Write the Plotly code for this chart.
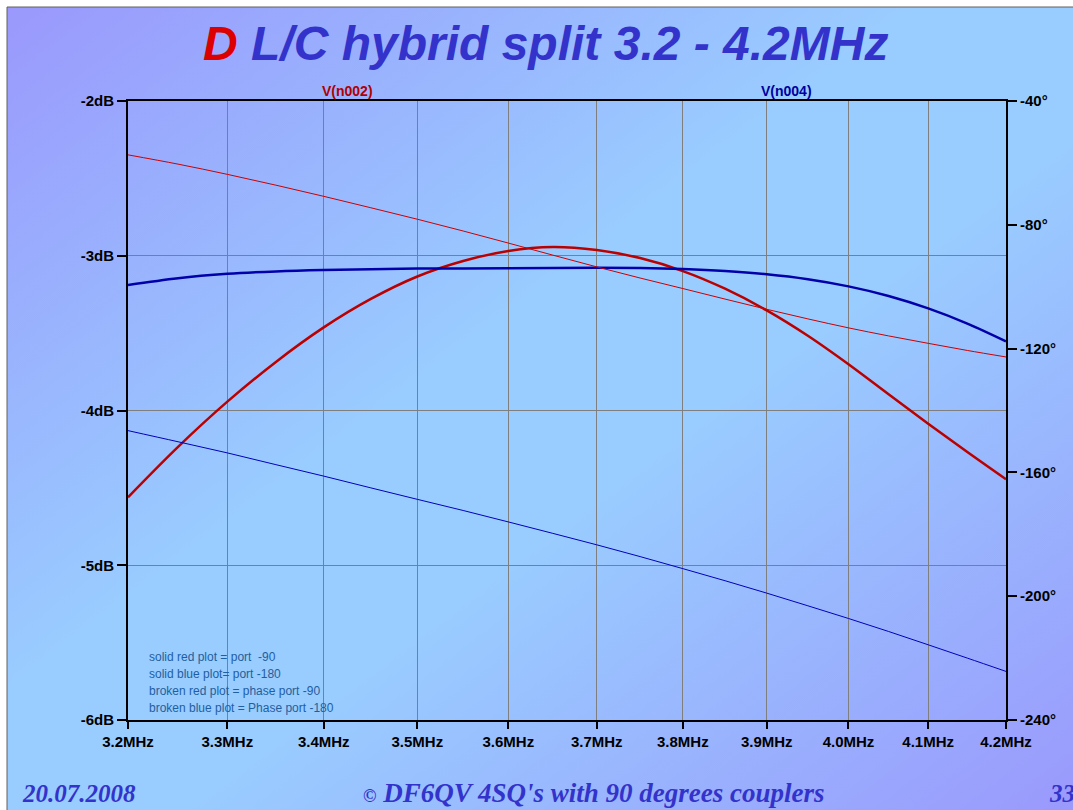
import base64
import math
import plotly.graph_objects as go

# Frequency sweep points (MHz)
freq_mhz = [3.2, 3.25, 3.3, 3.35, 3.4, 3.45, 3.5, 3.55, 3.6, 3.65, 3.7, 3.75,
            3.8, 3.85, 3.9, 3.95, 4.0, 4.05, 4.1, 4.15, 4.2]

# Magnitudes (dB) at the two output ports
mag_port90_db = [-4.561, -4.235, -3.943, -3.686, -3.463, -3.279, -3.134, -3.034,
                 -2.969, -2.943, -2.963, -3.015, -3.099, -3.213, -3.353, -3.517,
                 -3.701, -3.895, -4.085, -4.268, -4.444]
mag_port180_db = [-3.189, -3.145, -3.117, -3.101, -3.092, -3.087, -3.083, -3.082,
                  -3.081, -3.079, -3.077, -3.079, -3.086, -3.099, -3.120, -3.152,
                  -3.198, -3.260, -3.340, -3.438, -3.553]

# Phases (degrees) at the two output ports
phase_port90_deg = [-57.4, -60.4, -63.7, -67.2, -70.8, -74.5, -78.2, -82.0,
                    -85.9, -89.8, -93.6, -97.2, -100.6, -104.0, -107.3, -110.4,
                    -113.3, -115.9, -118.3, -120.6, -122.7]
phase_port180_deg = [-146.5, -150.1, -153.7, -157.5, -161.2, -165.0, -168.7, -172.3,
                     -176.0, -179.7, -183.4, -187.2, -191.1, -195.0, -199.0, -203.1,
                     -207.2, -211.4, -215.7, -220.0, -224.3]

# Axis ticks
x_ticks = [3.2, 3.3, 3.4, 3.5, 3.6, 3.7, 3.8, 3.9, 4.0, 4.1, 4.2]
x_ticklabels = [f"<b>{v:.1f}MHz</b>" for v in x_ticks]
db_ticks = [-2, -3, -4, -5, -6]
db_ticklabels = [f"<b>{v}dB</b>" for v in db_ticks]
deg_ticks = [-40, -80, -120, -160, -200, -240]
deg_ticklabels = [f"<b>{v}°</b>" for v in deg_ticks]

W, H = 1073, 810
L, R, T, B = 128, 1006, 101, 720
PW, PH = R - L, B - T


def px(xp):
    return (xp - L) / PW


def py(yp):
    return (B - yp) / PH


# Slide background: diagonal purple / light-blue gradient with a thin frame
svg = f"""<svg xmlns='http://www.w3.org/2000/svg' width='{W}' height='{H}' viewBox='0 0 {W} {H}' preserveAspectRatio='none'>
<defs><linearGradient id='g' x1='0' y1='0' x2='1' y2='1'>
<stop offset='0' stop-color='#9a98fc'/>
<stop offset='0.42' stop-color='#99ccff'/>
<stop offset='0.58' stop-color='#99ccff'/>
<stop offset='1' stop-color='#9a98fc'/>
</linearGradient></defs>
<rect x='0' y='0' width='{W}' height='{H}' fill='#ffffff'/>
<rect x='7' y='7' width='{W}' height='{H}' fill='url(#g)'/>
<line x1='7' y1='7' x2='{W}' y2='7' stroke='#606060' stroke-width='1'/>
<line x1='7' y1='7' x2='7' y2='{H}' stroke='#606060' stroke-width='1'/>
</svg>"""
bg_src = "data:image/svg+xml;base64," + base64.b64encode(svg.encode()).decode()

fig = go.Figure()

fig.add_trace(go.Scatter(x=freq_mhz, y=mag_port90_db, mode="lines",
                         line=dict(color="#bb0000", width=2.5, shape="spline"),
                         name="V(n002)", yaxis="y"))
fig.add_trace(go.Scatter(x=freq_mhz, y=mag_port180_db, mode="lines",
                         line=dict(color="#0000aa", width=2.5, shape="spline"),
                         name="V(n004)", yaxis="y"))
fig.add_trace(go.Scatter(x=freq_mhz, y=phase_port90_deg, mode="lines",
                         line=dict(color="#cc0000", width=1, shape="spline"),
                         name="phase V(n002)", yaxis="y2"))
fig.add_trace(go.Scatter(x=freq_mhz, y=phase_port180_deg, mode="lines",
                         line=dict(color="#0000bb", width=1, shape="spline"),
                         name="phase V(n004)", yaxis="y2"))

tickfont = dict(family="Liberation Sans, Arial", size=15, color="#000000")

fig.update_layout(
    width=W, height=H,
    margin=dict(l=L, r=W - R, t=T, b=H - B, pad=0),
    paper_bgcolor="#99ccff",
    plot_bgcolor="rgba(0,0,0,0)",
    showlegend=False,
    xaxis=dict(
        type="log",
        range=[math.log10(3.2), math.log10(4.2)],
        tickvals=x_ticks, ticktext=x_ticklabels, tickfont=tickfont,
        showgrid=True, gridcolor="#7f7f7f", gridwidth=1,
        showline=True, linecolor="#000000", linewidth=2, mirror=True,
        ticks="outside", ticklen=7, tickwidth=2, tickcolor="#000000",
        zeroline=False,
    ),
    yaxis=dict(
        range=[-6, -2],
        tickvals=db_ticks, ticktext=db_ticklabels, tickfont=tickfont,
        showgrid=True, gridcolor="#7f7f7f", gridwidth=1,
        showline=True, linecolor="#000000", linewidth=2,
        ticks="outside", ticklen=9, tickwidth=2, tickcolor="#000000",
        ticklabelstandoff=0,
        zeroline=False,
    ),
    yaxis2=dict(
        range=[-240, -40], overlaying="y", side="right",
        tickvals=deg_ticks, ticktext=deg_ticklabels, tickfont=tickfont,
        showgrid=False,
        showline=True, linecolor="#000000", linewidth=2,
        ticks="outside", ticklen=9, tickwidth=2, tickcolor="#000000",
        ticklabelstandoff=0,
        zeroline=False,
    ),
    images=[dict(
        source=bg_src, xref="paper", yref="paper",
        x=px(0), y=py(0), sizex=W / PW, sizey=H / PH,
        xanchor="left", yanchor="top", sizing="stretch", layer="below",
    )],
)

annotations = [
    # Title
    dict(x=px(545), y=py(44),
         text="<b><i><span style='color:#dd0000'>D</span> L/C hybrid split 3.2 - 4.2MHz</i></b>",
         font=dict(family="Liberation Sans, Arial", size=48, color="#3333cc"),
         xanchor="center", yanchor="middle"),
    # Trace labels
    dict(x=px(347), y=py(91), text="<b>V(n002)</b>",
         font=dict(family="Liberation Sans, Arial", size=14, color="#b00000"),
         xanchor="center", yanchor="middle"),
    dict(x=px(786), y=py(91), text="<b>V(n004)</b>",
         font=dict(family="Liberation Sans, Arial", size=14, color="#0000a0"),
         xanchor="center", yanchor="middle"),
    # Footer
    dict(x=px(20), y=py(793), text="<b><i>20.07.2008</i></b>",
         font=dict(family="Liberation Serif, Times New Roman", size=25, color="#3333cc"),
         xanchor="left", yanchor="middle"),
    dict(x=px(594), y=py(793),
         text="<b><i><span style='font-size:18px'>©</span> DF6QV 4SQ's with 90 degrees couplers</i></b>",
         font=dict(family="Liberation Serif, Times New Roman", size=27, color="#3333cc"),
         xanchor="center", yanchor="middle"),
    dict(x=px(1047), y=py(793), text="<b><i>33</i></b>",
         font=dict(family="Liberation Serif, Times New Roman", size=25, color="#3333cc"),
         xanchor="left", yanchor="middle"),
]

notes = ["solid red plot = port  -90",
         "solid blue plot= port -180",
         "broken red plot = phase port -90",
         "broken blue plot = Phase port -180"]
for i, line in enumerate(notes):
    annotations.append(dict(
        x=px(147), y=py(657 + 17 * i), text=line.replace("  ", "&nbsp; "),
        font=dict(family="Liberation Sans, Arial", size=12, color="#1f5fa0"),
        xanchor="left", yanchor="middle"))

for a in annotations:
    a.update(xref="paper", yref="paper", showarrow=False)
fig.update_layout(annotations=annotations)

fig.write_html("out.html")
